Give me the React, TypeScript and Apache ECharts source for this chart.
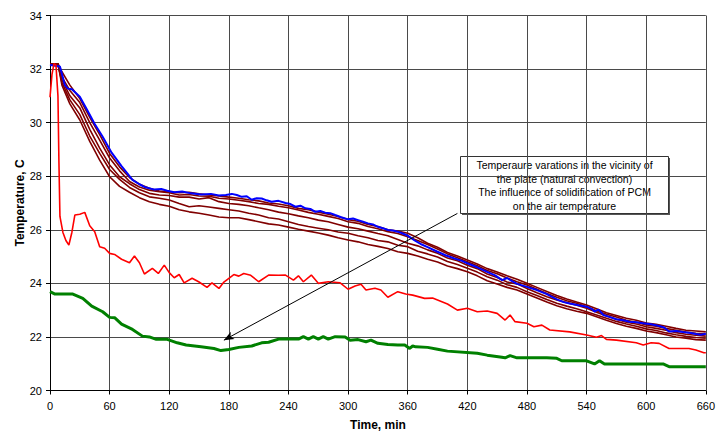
import React, { useEffect, useRef } from "react";
import * as echarts from "echarts";

const xTicks = [0, 60, 120, 180, 240, 300, 360, 420, 480, 540, 600, 660];
const yTicks = [20, 22, 24, 26, 28, 30, 32, 34];

const blueSeries: [number, number][] = [
  [0, 32.15], [5, 32.12], [10, 32.1], [15, 31.4], [18, 31.27], [22, 31.25], [30, 30.97], [37, 30.5],
  [45, 29.95], [53, 29.47], [62, 28.88], [72, 28.38], [83, 27.86], [90, 27.7], [95, 27.6], [105, 27.5],
  [112, 27.52], [118, 27.46], [125, 27.4], [133, 27.43], [142, 27.36], [152, 27.32], [162, 27.34],
  [170, 27.28], [177, 27.3], [183, 27.34], [188, 27.3], [193, 27.23], [198, 27.25], [203, 27.12],
  [208, 27.18], [213, 27.17], [218, 27.1], [223, 27.05], [230, 27.08], [237, 27.0], [242, 26.96],
  [247, 26.86], [252, 26.9], [257, 26.8], [262, 26.78], [267, 26.67], [272, 26.7], [277, 26.64],
  [282, 26.62], [287, 26.55], [293, 26.47], [300, 26.39], [305, 26.42], [310, 26.36], [315, 26.3],
  [320, 26.24], [325, 26.2], [330, 26.11], [335, 26.06], [340, 25.99], [345, 25.97], [350, 25.93],
  [355, 25.86], [360, 25.78], [367, 25.6], [373, 25.47], [380, 25.35], [390, 25.18], [398, 25.05],
  [407, 24.93], [414, 24.85], [420, 24.75], [430, 24.6], [440, 24.43], [448, 24.3], [455, 24.12],
  [460, 24.2], [465, 24.08], [470, 23.98], [480, 23.87], [490, 23.75], [500, 23.6], [510, 23.4],
  [517, 23.3], [523, 23.25], [532, 23.18], [540, 23.13], [545, 23.05], [548, 22.95], [552, 23.02],
  [557, 22.82], [563, 22.75], [570, 22.66], [577, 22.62], [583, 22.57], [590, 22.55], [597, 22.51],
  [605, 22.47], [613, 22.41], [618, 22.35], [623, 22.2], [630, 22.22], [637, 22.18], [645, 22.15],
  [650, 22.11], [655, 22.08], [660, 22.12],
];

const plateTimes = [0, 8, 12, 20, 30, 40, 50, 60, 70, 80, 90, 100, 110, 120, 130, 140, 150, 160, 170, 180,
  190, 200, 210, 220, 230, 240, 250, 260, 270, 280, 290, 300, 310, 320, 330, 340, 350, 360, 370, 380,
  390, 400, 410, 420, 430, 440, 450, 460, 470, 480, 490, 500, 510, 520, 530, 540, 550, 560, 570, 580,
  590, 600, 610, 620, 630, 640, 650, 660];

const plate1 = [32.2, 32.2, 31.9, 31.4, 30.9, 30.2, 29.55, 28.85, 28.35, 27.95, 27.7, 27.55, 27.45, 27.42,
  27.38, 27.4, 27.34, 27.3, 27.26, 27.22, 27.18, 27.12, 27.08, 27.0, 26.96, 26.9, 26.8, 26.75, 26.66, 26.58,
  26.5, 26.38, 26.32, 26.2, 26.12, 26.0, 25.95, 25.87, 25.7, 25.5, 25.35, 25.15, 25.02, 24.87, 24.72, 24.55,
  24.42, 24.28, 24.15, 24.0, 23.85, 23.7, 23.55, 23.42, 23.3, 23.19, 23.05, 22.9, 22.8, 22.7, 22.62, 22.52,
  22.47, 22.4, 22.32, 22.25, 22.22, 22.19];
const plate2 = [32.2, 32.2, 31.7, 31.2, 30.75, 30.0, 29.35, 28.68, 28.2, 27.8, 27.6, 27.48, 27.42, 27.38,
  27.3, 27.32, 27.26, 27.25, 27.18, 27.15, 27.1, 27.05, 26.98, 26.95, 26.88, 26.82, 26.74, 26.65, 26.58,
  26.5, 26.42, 26.3, 26.24, 26.12, 26.04, 25.93, 25.86, 25.74, 25.6, 25.45, 25.28, 25.1, 24.96, 24.81, 24.66,
  24.48, 24.36, 24.2, 24.06, 23.94, 23.78, 23.62, 23.48, 23.35, 23.26, 23.13, 22.98, 22.85, 22.74, 22.62,
  22.55, 22.45, 22.4, 22.32, 22.25, 22.18, 22.14, 22.11];
const plate3 = [32.2, 32.15, 31.6, 31.0, 30.55, 29.75, 29.05, 28.42, 27.98, 27.72, 27.5, 27.36, 27.3,
  27.28, 27.22, 27.22, 27.15, 27.2, 27.05, 26.98, 26.95, 26.9, 26.82, 26.75, 26.66, 26.6, 26.52, 26.45,
  26.36, 26.3, 26.2, 26.1, 26.04, 25.95, 25.86, 25.78, 25.64, 25.5, 25.4, 25.25, 25.12, 24.95, 24.84, 24.68,
  24.55, 24.35, 24.22, 24.05, 23.98, 23.81, 23.65, 23.5, 23.38, 23.28, 23.18, 23.07, 22.92, 22.78, 22.66,
  22.55, 22.48, 22.38, 22.32, 22.25, 22.16, 22.1, 22.06, 22.03];
const plate4 = [32.2, 32.2, 31.5, 30.85, 30.3, 29.5, 28.85, 28.25, 27.88, 27.58, 27.38, 27.23, 27.18,
  27.11, 26.98, 26.86, 26.9, 26.85, 26.8, 26.75, 26.7, 26.62, 26.55, 26.45, 26.4, 26.3, 26.2, 26.12, 26.06,
  26.0, 25.92, 25.87, 25.78, 25.7, 25.6, 25.55, 25.42, 25.37, 25.2, 25.1, 24.98, 24.82, 24.7, 24.56, 24.42,
  24.25, 24.12, 23.95, 23.85, 23.69, 23.55, 23.4, 23.26, 23.15, 23.05, 22.94, 22.82, 22.7, 22.58, 22.48,
  22.4, 22.3, 22.24, 22.15, 22.08, 22.02, 21.98, 21.95];
const plate5 = [32.2, 32.2, 31.4, 30.7, 30.1, 29.3, 28.6, 27.98, 27.62, 27.4, 27.2, 27.05, 26.95, 26.88,
  26.75, 26.67, 26.62, 26.55, 26.48, 26.45, 26.45, 26.38, 26.3, 26.22, 26.18, 26.1, 26.02, 25.95, 25.88,
  25.8, 25.7, 25.62, 25.55, 25.45, 25.38, 25.3, 25.18, 25.12, 25.02, 24.9, 24.8, 24.65, 24.55, 24.43, 24.28,
  24.1, 23.98, 23.85, 23.75, 23.6, 23.45, 23.3, 23.16, 23.05, 22.96, 22.88, 22.75, 22.62, 22.5, 22.4, 22.32,
  22.22, 22.16, 22.08, 22.0, 21.95, 21.9, 21.88];

const airSeries: [number, number][] = [
  [0, 30.95], [2, 31.8], [4, 32.2], [6, 32.15], [8, 31.0], [9, 28.5], [10, 26.5], [13, 25.9], [16, 25.6],
  [19, 25.43], [22, 25.9], [25, 26.55], [30, 26.58], [35, 26.65], [40, 26.15], [45, 25.93], [50, 25.37],
  [55, 25.31], [60, 25.12], [65, 25.08], [72, 24.9], [80, 24.77], [85, 25.02], [90, 24.77], [95, 24.35],
  [103, 24.56], [109, 24.37], [115, 24.68], [120, 24.4], [125, 24.21], [130, 24.33], [135, 24.02],
  [143, 24.19], [150, 24.05], [158, 23.85], [163, 24.02], [170, 23.81], [175, 24.05], [180, 24.19],
  [185, 24.33], [190, 24.27], [195, 24.37], [202, 24.3], [210, 24.06], [220, 24.31], [230, 24.3],
  [237, 24.31], [245, 24.12], [250, 24.28], [255, 24.06], [263, 24.31], [270, 24.0], [280, 24.06],
  [292, 24.02], [300, 23.78], [307, 23.9], [313, 23.97], [318, 23.75], [327, 23.82], [333, 23.75],
  [340, 23.48], [350, 23.69], [358, 23.6], [365, 23.56], [377, 23.44], [385, 23.45], [400, 23.23],
  [410, 23.0], [420, 23.07], [430, 22.94], [440, 22.97], [450, 22.88], [458, 22.63], [463, 22.82],
  [468, 22.57], [480, 22.51], [487, 22.38], [495, 22.44], [503, 22.26], [523, 22.19], [540, 22.07],
  [550, 21.99], [555, 22.05], [560, 21.91], [570, 21.88], [590, 21.78], [597, 21.7], [605, 21.78],
  [613, 21.76], [623, 21.57], [643, 21.57], [650, 21.51], [658, 21.41], [660, 21.41],
];

const greenSeries: [number, number][] = [
  [0, 23.69], [5, 23.6], [23, 23.6], [33, 23.44], [42, 23.15], [53, 22.94], [60, 22.73], [65, 22.72],
  [72, 22.48], [83, 22.28], [93, 22.03], [100, 22.0], [107, 21.91], [118, 21.91], [128, 21.78],
  [137, 21.7], [152, 21.63], [165, 21.57], [172, 21.49], [180, 21.53], [190, 21.61], [203, 21.66],
  [213, 21.78], [220, 21.8], [230, 21.92], [250, 21.92], [255, 22.01], [260, 21.92], [265, 22.01],
  [270, 21.92], [275, 22.01], [280, 21.92], [287, 22.01], [297, 22.0], [302, 21.88], [310, 21.9],
  [318, 21.82], [323, 21.88], [330, 21.76], [340, 21.72], [350, 21.7], [357, 21.7], [362, 21.57],
  [365, 21.66], [368, 21.63], [380, 21.61], [390, 21.54], [400, 21.47], [430, 21.39], [440, 21.32],
  [453, 21.25], [458, 21.22], [463, 21.3], [470, 21.22], [500, 21.22], [510, 21.2], [515, 21.11],
  [540, 21.11], [548, 20.99], [553, 21.11], [558, 20.99], [617, 20.99], [623, 20.89], [660, 20.89],
];

const annotationLines = [
  "Temperaure varations in the vicinity of",
  "the plate (natural convection)",
  "The influence of solidification of PCM",
  "on the air temperature",
];
const arrowStart: [number, number] = [410, 26.61];
const arrowEnd: [number, number] = [175, 21.88];

const FONT = "'Liberation Sans', Arial, sans-serif";

export default function App() {
  const ref = useRef<HTMLDivElement>(null);
  useEffect(() => {
    if (!ref.current) return;
    const chart = echarts.init(ref.current, null, { renderer: "svg" });
    const plates = [plate5, plate4, plate3, plate2, plate1];
    const series: any[] = plates.map((vals) => ({
      type: "line",
      data: plateTimes.map((t, i) => [t, vals[i]]),
      showSymbol: false,
      symbol: "none",
      lineStyle: { color: "#800000", width: 1.6 },
      z: 2,
    }));
    series.push({
      type: "line",
      data: blueSeries,
      symbol: "none",
      lineStyle: { color: "#0000ff", width: 2 },
      z: 3,
    });
    series.push({
      type: "line",
      data: airSeries,
      symbol: "none",
      lineStyle: { color: "#ff0000", width: 1.6 },
      z: 3,
    });
    series.push({
      type: "line",
      data: greenSeries,
      symbol: "none",
      lineStyle: { color: "#008000", width: 3 },
      z: 3,
      markLine: {
        silent: true,
        symbol: ["none", "arrow"],
        symbolSize: [6, 10],
        label: { show: false },
        lineStyle: { color: "#000", width: 1, type: "solid" },
        data: [[{ coord: arrowStart }, { coord: arrowEnd }]],
      },
    });

    chart.setOption({
      animation: false,
      backgroundColor: "#fff",
      textStyle: { fontFamily: FONT },
      grid: { left: 50, right: 8, top: 15.5, bottom: 45.5, containLabel: false },
      xAxis: {
        type: "value",
        min: xTicks[0],
        max: xTicks[xTicks.length - 1],
        interval: 60,
        name: "Time, min",
        nameLocation: "middle",
        nameGap: 28,
        nameMoveOverlap: false,
        nameTextStyle: { fontWeight: "bold", fontSize: 12, color: "#000", fontFamily: FONT },
        axisLine: { lineStyle: { color: "#000", width: 1 } },
        axisTick: { show: true, length: 4, lineStyle: { color: "#000" } },
        axisLabel: { fontSize: 11, color: "#000", margin: 10, fontFamily: FONT },
        splitLine: { show: true, lineStyle: { color: "#4a4a4a", width: 1 } },
      },
      yAxis: {
        type: "value",
        min: yTicks[0],
        max: yTicks[yTicks.length - 1],
        interval: 2,
        name: "Temperature, C",
        nameLocation: "middle",
        nameGap: 24,
        nameMoveOverlap: false,
        nameTextStyle: { fontWeight: "bold", fontSize: 12, color: "#000", fontFamily: FONT },
        axisLine: { show: true, lineStyle: { color: "#000", width: 1 } },
        axisTick: { show: true, length: 4, lineStyle: { color: "#000" } },
        axisLabel: { fontSize: 11, color: "#000", margin: 8, fontFamily: FONT },
        splitLine: { show: true, lineStyle: { color: "#4a4a4a", width: 1 } },
      },
      series,
      graphic: [
        {
          type: "group",
          left: 460,
          top: 156,
          z: 100,
          children: [
            {
              type: "rect",
              shape: { x: 1.5, y: 1.5, width: 208, height: 57 },
              style: { fill: "#555" },
            },
            {
              type: "rect",
              shape: { x: 0, y: 0, width: 208, height: 57 },
              style: { fill: "#fff", stroke: "#333", lineWidth: 1 },
            },
            ...annotationLines.map((s, i) => ({
              type: "text",
              x: 104,
              y: 8.5 + i * 13.7,
              style: {
                text: s,
                fill: "#000",
                font: `10.5px ${FONT}`,
                textAlign: "center",
                textVerticalAlign: "middle",
              },
            })),
          ],
        },
      ],
    });
    return () => chart.dispose();
  }, []);
  return (
    <div
      ref={ref}
      style={{ position: "fixed", left: 0, top: 0, width: 718, height: 436 }}
    />
  );
}
